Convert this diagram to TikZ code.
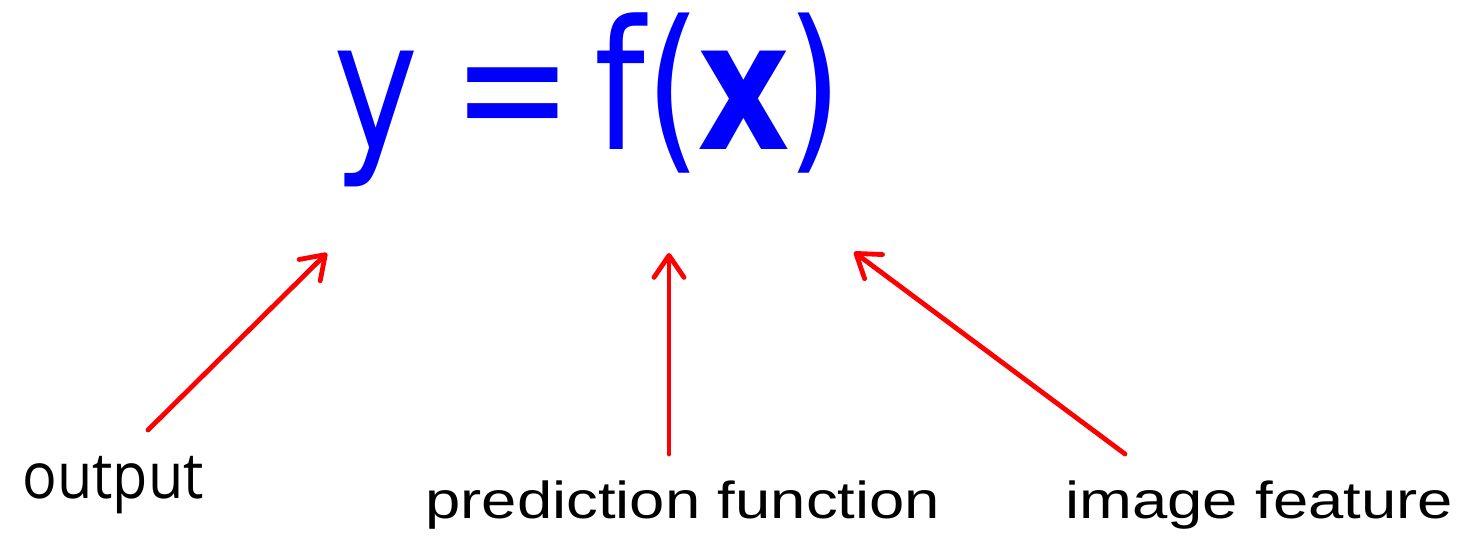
\documentclass[tikz,border=0pt]{standalone}
\usepackage{fontspec}
\setmainfont{Liberation Sans}
\newfontfamily\eqfont[FakeStretch=0.8]{DejaVu Sans}
\newfontfamily\outfont[FakeStretch=0.9]{Open Sans}
\newfontfamily\lblfont[FakeStretch=1.22]{Liberation Sans}
\usetikzlibrary{arrows.meta}
\definecolor{eqblue}{RGB}{0,0,255}
\definecolor{arrred}{RGB}{255,0,0}
\begin{document}
\begin{tikzpicture}[x=0.5pt,y=-0.5pt,
  eqstyle/.style={inner sep=0pt,anchor=base west,text=eqblue,font=\eqfont\fontsize{90}{90}\selectfont},
  lbl/.style={inner sep=0pt,anchor=base west,font=\lblfont\fontsize{26}{30}\selectfont},
  pointer/.style={draw=arrred,line width=2.4pt,line cap=round,-{Straight Barb[length=11pt,width=15pt,round]}}]
\useasboundingbox (0,0) rectangle (1463,539);
\node[eqstyle] (eq) at (333,150) {y\kern-6pt\ =\kern-12pt\ f(\kern-2pt\textbf{x}\kern-2pt)};
\node[lbl,font=\outfont\fontsize{32}{36}\selectfont] (out) at (22,499) {output};
\node[lbl] (pred) at (425,519) {prediction function};
\node[lbl] (feat) at (1065,519) {image feature};
\coordinate (s1) at (148,430);
\coordinate (t1) at (327,253);
\coordinate (s2) at (669,454);
\coordinate (t2) at (669,253);
\coordinate (s3) at (1125,454);
\coordinate (t3) at (854,252);
\draw[pointer] (s1) -- (t1);
\draw[pointer] (s2) -- (t2);
\draw[pointer] (s3) -- (t3);
\end{tikzpicture}
\end{document}
